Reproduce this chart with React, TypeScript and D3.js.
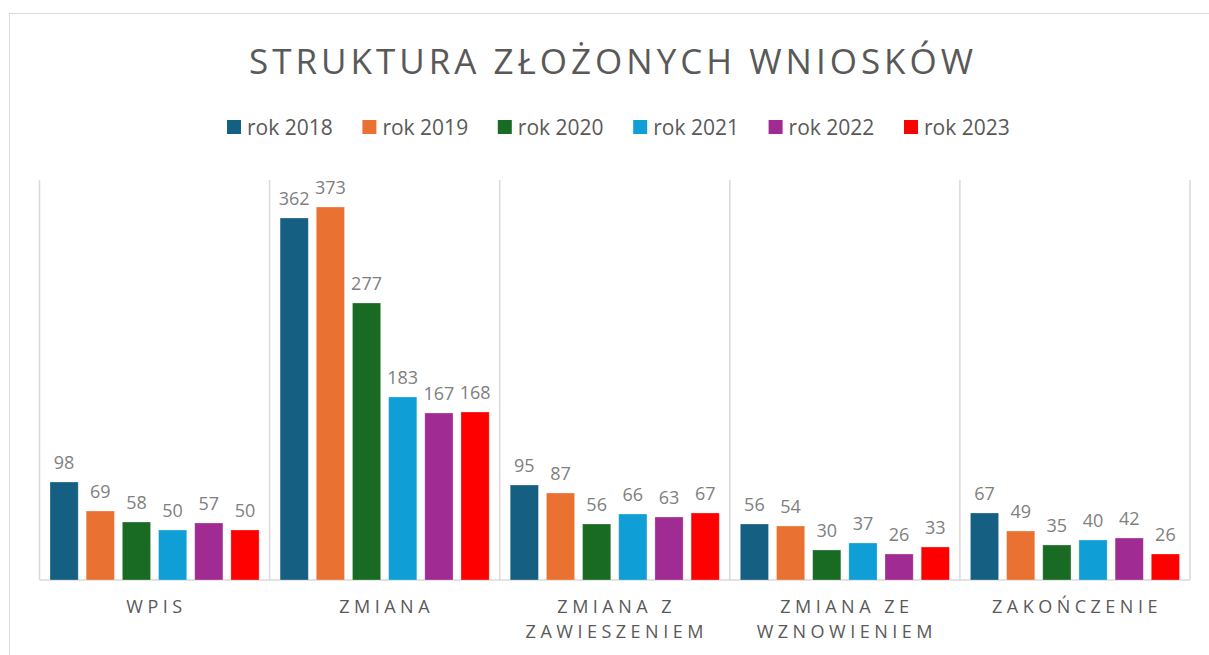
import * as d3 from 'd3';

const categories = ['WPIS', 'ZMIANA', 'ZMIANA Z ZAWIESZENIEM', 'ZMIANA ZE WZNOWIENIEM', 'ZAKOŃCZENIE'];
const categoryLines = [['WPIS'], ['ZMIANA'], ['ZMIANA Z', 'ZAWIESZENIEM'], ['ZMIANA ZE', 'WZNOWIENIEM'], ['ZAKOŃCZENIE']];
const seriesNames = ['rok 2018', 'rok 2019', 'rok 2020', 'rok 2021', 'rok 2022', 'rok 2023'];
const seriesColors = ['#156082', '#E97132', '#196B24', '#0F9ED5', '#A02B93', '#FF0000'];
const values2018 = [98, 362, 95, 56, 67];
const values2019 = [69, 373, 87, 54, 49];
const values2020 = [58, 277, 56, 30, 35];
const values2021 = [50, 183, 66, 37, 40];
const values2022 = [57, 167, 63, 26, 42];
const values2023 = [50, 168, 67, 33, 26];
const seriesValues = [values2018, values2019, values2020, values2021, values2022, values2023];

const W = 1209;
const H = 655;
const font = "'Open Sans', sans-serif";
const textColor = '#595959';

export default function App() {
  const left = 39.5;
  const right = 1190;
  const top = 180;
  const bottom = 580;

  const x0 = d3.scaleBand<string>().domain(categories).range([left, right]).paddingInner(0).paddingOuter(0);
  const x1 = d3
    .scaleBand<string>()
    .domain(seriesNames)
    .range([10.5, x0.bandwidth() - 10.5])
    .paddingInner(0.22)
    .paddingOuter(0);
  const y = d3.scaleLinear().domain([0, 400]).range([bottom, top]);

  const legendX = d3.scaleLinear().domain([0, 5]).range([227, 904]);

  return (
    <svg width={W} height={H} style={{ position: 'absolute', left: 0, top: 0 }}>
      <rect x={0} y={0} width={W} height={H} fill="#fff" />
      <rect x={9.5} y={13.5} width={W + 20} height={H + 20} fill="#fff" stroke="#d9d9d9" strokeWidth={1} />

      <text
        x={613}
        y={74}
        textAnchor="middle"
        fontFamily={font}
        fontSize={35}
        letterSpacing={4}
        fill={textColor}
      >
        STRUKTURA ZŁOŻONYCH WNIOSKÓW
      </text>

      {seriesNames.map((s, i) => (
        <g key={s} transform={`translate(${legendX(i)},0)`}>
          <rect x={0} y={120} width={14} height={14} fill={seriesColors[i]} />
          <text x={20} y={134.5} fontFamily={font} fontSize={21} fill={textColor}>
            {s}
          </text>
        </g>
      ))}

      {[...categories.map((c) => x0(c) as number), right].map((xv, i) => (
        <line key={i} x1={xv} x2={xv} y1={top} y2={bottom} stroke="#d9d9d9" strokeWidth={1.5} />
      ))}
      <line x1={left} x2={right} y1={bottom} y2={bottom} stroke="#d9d9d9" strokeWidth={1.5} />

      {categories.map((c, ci) => (
        <g key={c} transform={`translate(${x0(c)},0)`}>
          {seriesNames.map((s, si) => {
            const v = seriesValues[si][ci];
            const bx = x1(s) as number;
            return (
              <g key={s}>
                <rect
                  x={bx}
                  y={y(v)}
                  width={x1.bandwidth()}
                  height={bottom - y(v)}
                  fill={seriesColors[si]}
                  stroke="#fff"
                  strokeOpacity={0.35}
                  strokeWidth={0.8}
                />
                <text
                  x={bx + x1.bandwidth() / 2}
                  y={y(v) - 13}
                  textAnchor="middle"
                  fontFamily={font}
                  fontSize={18}
                  fill="#808080"
                >
                  {v}
                </text>
              </g>
            );
          })}
          {categoryLines[ci].map((ln, li) => (
            <text
              key={li}
              x={x0.bandwidth() / 2 + 2}
              y={613 + li * 25}
              textAnchor="middle"
              fontFamily={font}
              fontSize={18}
              letterSpacing={4.5}
              fill={textColor}
            >
              {ln}
            </text>
          ))}
        </g>
      ))}
    </svg>
  );
}
